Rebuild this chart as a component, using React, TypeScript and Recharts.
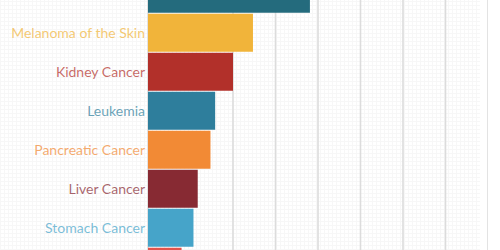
import { BarChart, Bar, XAxis, YAxis, CartesianGrid, Cell } from "recharts";

const cancers = [
  "Bladder Cancer",
  "Melanoma of the Skin",
  "Kidney Cancer",
  "Leukemia",
  "Pancreatic Cancer",
  "Liver Cancer",
  "Stomach Cancer",
  "Ovarian Cancer",
];

const values = [3.81, 2.47, 2.0, 1.58, 1.47, 1.17, 1.07, 0.79];

const barColors = [
  "#246b7d",
  "#f1b43a",
  "#b2302a",
  "#2e7e9c",
  "#f28a35",
  "#872a33",
  "#46a4c9",
  "#e2534b",
];

const gridTicks = [2, 3, 4, 5, 6, 7];

const data = cancers.map((name, i) => ({ name, value: values[i] }));

// label text takes the bar colour, a bit washed out
const CancerTick = (props: any) => {
  const { x, y, payload, index } = props;
  return (
    <text
      x={x}
      y={y}
      dy={5}
      textAnchor="end"
      fill={barColors[index]}
      fillOpacity={0.72}
      fontFamily="Lato"
      fontSize={14}
    >
      {payload.value}
    </text>
  );
};

export default function App() {
  return (
    <div
      style={{
        position: "absolute",
        left: 0,
        top: 0,
        width: 500,
        height: 250,
        overflow: "hidden",
        background: "#fff",
      }}
    >
      {/* faint graph-paper texture */}
      <div
        style={{
          position: "absolute",
          left: 0,
          top: 0,
          width: 480,
          height: 250,
          backgroundImage:
            "repeating-linear-gradient(0deg, #f7f7f7 0 1px, transparent 1px 4px), repeating-linear-gradient(90deg, #f7f7f7 0 1px, transparent 1px 4px)",
        }}
      />
      <div style={{ position: "absolute", left: 0, top: -26.5 }}>
        <BarChart
          width={488}
          height={312}
          data={data}
          layout="vertical"
          margin={{ top: 0, right: 0, bottom: 0, left: 0 }}
          barCategoryGap={0.75}
        >
          <CartesianGrid
            horizontal={false}
            stroke="#dcdcdc"
            strokeWidth={1.6}
          />
          <XAxis
            type="number"
            domain={[0, 8]}
            ticks={gridTicks}
            hide
          />
          <YAxis
            type="category"
            dataKey="name"
            width={148}
            axisLine={false}
            tickLine={false}
            tickSize={0}
            tickMargin={3}
            tick={<CancerTick />}
            interval={0}
          />
          <Bar dataKey="value" isAnimationActive={false}>
            {data.map((d, i) => (
              <Cell key={d.name} fill={barColors[i]} />
            ))}
          </Bar>
        </BarChart>
      </div>
    </div>
  );
}
